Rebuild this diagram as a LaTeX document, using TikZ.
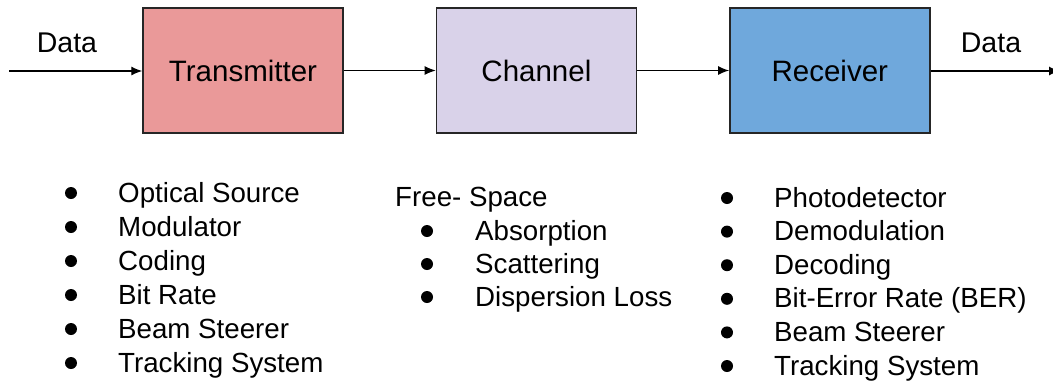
\documentclass[tikz,border=0pt]{standalone}
\usepackage{fontspec}
\setmainfont{Liberation Sans}
\usepackage{tikz}
\usepackage{xcolor}
\usetikzlibrary{positioning,arrows.meta,calc}

\definecolor{txred}{HTML}{EA9999}
\definecolor{chlilac}{HTML}{D9D2E9}
\definecolor{rxblue}{HTML}{6FA8DC}

\begin{document}
\begin{tikzpicture}[
  x=1pt,y=-1pt,
  blk/.style={draw=black!85,line width=1.4pt,minimum width=200pt,minimum height=125pt,
    inner sep=0pt,font=\fontsize{29.5}{34}\selectfont},
  arr/.style={-{Latex[length=11pt,width=9pt]},line width=1.2pt},
  item/.style={anchor=base west,inner sep=0pt,font=\fontsize{27.7}{32}\selectfont},
  dot/.style={circle,fill=black,inner sep=0pt,minimum size=12pt},
  lbl/.style={anchor=base,inner sep=0pt,font=\fontsize{28.5}{33}\selectfont},
  node distance=92pt
]
\useasboundingbox (0,0) rectangle (1053,381);
\clip (0,0) rectangle (1053,381);

% blocks
\node[blk,fill=txred] (tx) at (243,70.5) {Transmitter};
\node[blk,fill=chlilac,right=of tx] (ch) {Channel};
\node[blk,fill=rxblue,right=of ch] (rx) {Receiver};

% data in / out
\coordinate (din) at (9,71);
\coordinate (dout) at (1060,71);
\node[lbl] (datain) at (67,52) {Data};
\node[lbl] (dataout) at (991,52) {Data};
\draw[arr] (din) -- (din -| tx.west);
\draw[arr] (tx) -- (ch);
\draw[arr] (ch) -- (rx);
\draw[arr] (rx.east |- dout) -- (dout);

% transmitter list
\foreach \txt [count=\i] in {Optical Source,Modulator,Coding,Bit Rate,Beam Steerer,Tracking System}{
  \node[dot] (txd\i) at (71,{193+34*(\i-1)}) {};
  \node[item] (txi\i) at (118,{202+34*(\i-1)}) {\txt};
}

% channel list
\node[item] (free) at (395,206) {Free- Space};
\foreach \txt [count=\i] in {Absorption,Scattering,Dispersion Loss}{
  \node[dot] (chd\i) at (427,{231+33*(\i-1)}) {};
  \node[item] (chi\i) at (475,{240+33*(\i-1)}) {\txt};
}

% receiver list
\foreach \txt [count=\i] in {Photodetector,Demodulation,Decoding,Bit-Error Rate (BER),Beam Steerer,Tracking System}{
  \node[dot] (rxd\i) at (727,{198+33.6*(\i-1)}) {};
  \node[item] (rxi\i) at (774,{207+33.6*(\i-1)}) {\txt};
}
\end{tikzpicture}
\end{document}
